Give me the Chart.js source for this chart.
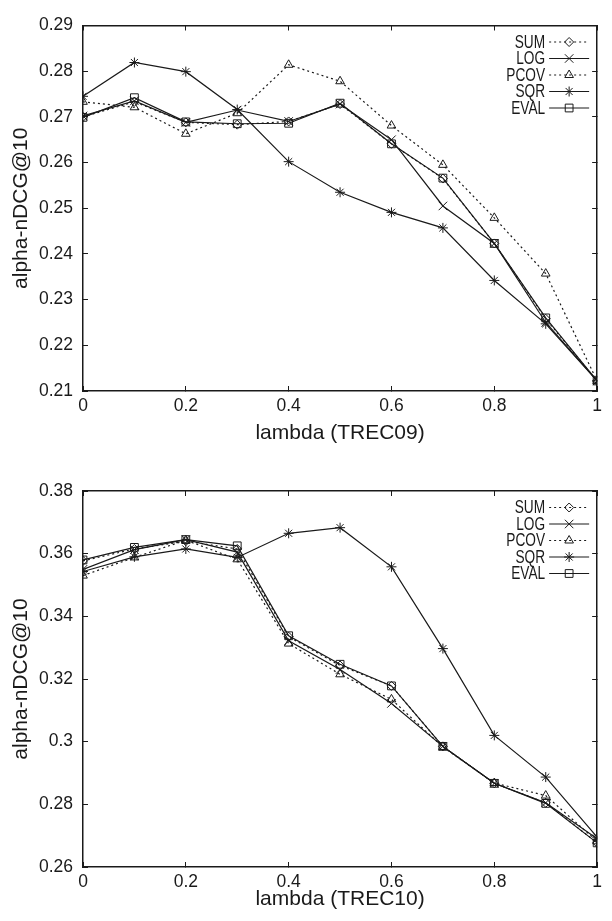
<!DOCTYPE html>
<html>
<head>
<meta charset="utf-8">
<script src="https://cdn.jsdelivr.net/npm/chart.js@4.4.1/dist/chart.umd.min.js"></script>
<style>
  html, body { margin: 0; padding: 0; background: #fff; }
  #wrap { position: relative; width: 612px; height: 921px; }
  canvas { position: absolute; left: 0; }
  #trec09 { top: 0; }
  #trec10 { top: 460px; }
</style>
</head>
<body>
<div id="wrap">
  <canvas id="trec09" width="612" height="460"></canvas>
  <canvas id="trec10" width="612" height="461"></canvas>
</div>
<script>
// lambda values on the x axis
const lambdas = [0, 0.1, 0.2, 0.3, 0.4, 0.5, 0.6, 0.7, 0.8, 0.9, 1];
const seriesNames = ["SUM", "LOG", "PCOV", "SQR", "EVAL"];

const xTicks = [0, 0.2, 0.4, 0.6, 0.8, 1];
const xTickLabels = ["0", "0.2", "0.4", "0.6", "0.8", "1"];
const yTicks09 = [0.21, 0.22, 0.23, 0.24, 0.25, 0.26, 0.27, 0.28, 0.29];
const yTickLabels09 = ["0.21", "0.22", "0.23", "0.24", "0.25", "0.26", "0.27", "0.28", "0.29"];
const yTicks10 = [0.26, 0.28, 0.30, 0.32, 0.34, 0.36, 0.38];
const yTickLabels10 = ["0.26", "0.28", "0.3", "0.32", "0.34", "0.36", "0.38"];

// TREC09 (alpha-nDCG@10)
const sum09  = [0.2700, 0.2733, 0.2688, 0.2683, 0.2690, 0.2728, 0.2641, 0.2565, 0.2423, 0.2258, 0.2122];
const log09  = [0.2702, 0.2735, 0.2688, 0.2715, 0.2690, 0.2728, 0.2650, 0.2505, 0.2423, 0.2250, 0.2122];
const pcov09 = [0.2733, 0.2721, 0.2663, 0.2708, 0.2814, 0.2778, 0.2681, 0.2595, 0.2479, 0.2357, 0.2122];
const sqr09  = [0.2745, 0.2819, 0.2799, 0.2716, 0.2602, 0.2535, 0.2491, 0.2457, 0.2342, 0.2247, 0.2122];
const eval09 = [0.2699, 0.2742, 0.2689, 0.2685, 0.2686, 0.2730, 0.2641, 0.2566, 0.2423, 0.2260, 0.2122];

// TREC10 (alpha-nDCG@10)
const sum10  = [0.3577, 0.3615, 0.3640, 0.3615, 0.3335, 0.3243, 0.3178, 0.2985, 0.2867, 0.2805, 0.2677];
const log10  = [0.3550, 0.3613, 0.3645, 0.3605, 0.3322, 0.3230, 0.3122, 0.2985, 0.2867, 0.2805, 0.2690];
const pcov10 = [0.3530, 0.3588, 0.3643, 0.3582, 0.3313, 0.3215, 0.3135, 0.2983, 0.2868, 0.2828, 0.2682];
const sqr10  = [0.3543, 0.3590, 0.3615, 0.3588, 0.3665, 0.3683, 0.3558, 0.3297, 0.3020, 0.2887, 0.2695];
const eval10 = [0.3580, 0.3620, 0.3645, 0.3625, 0.3338, 0.3247, 0.3178, 0.2985, 0.2867, 0.2803, 0.2677];

const FONT = "'Liberation Sans', Arial, Helvetica, sans-serif";
const INK = "#1a1a1a";

// gnuplot-like marker + line style per series
const styles = {
  SUM:  { pointStyle: "rectRot",  dash: [2, 3], radius: 4.5 },
  LOG:  { pointStyle: "crossRot", dash: [],     radius: 6 },
  PCOV: { pointStyle: "triangle", dash: [2, 3], radius: 5 },
  SQR:  { pointStyle: "star",     dash: [],     radius: 5 },
  EVAL: { pointStyle: "rect",     dash: [],     radius: 5.5 }
};

function makeDatasets(values) {
  return seriesNames.map((name, i) => ({
    label: name,
    data: lambdas.map((x, j) => ({ x: x, y: values[i][j] })),
    borderColor: INK,
    borderWidth: 1.2,
    borderDash: styles[name].dash,
    pointStyle: styles[name].pointStyle,
    pointRadius: styles[name].radius,
    pointBorderColor: INK,
    pointBorderWidth: 1,
    pointBackgroundColor: "rgba(0,0,0,0)",
    tension: 0,
    fill: false
  }));
}

// key drawn inside the plot, text on the left, sample on the right
const keyPlugin = {
  id: "gnuplotKey",
  afterDatasetsDraw(chart) {
    const { ctx, chartArea } = chart;
    chart.data.datasets.forEach((ds, i) => {
      const y = chartArea.top + 16.5 + i * 16.5;
      const right = chartArea.right;
      ctx.save();
      ctx.font = "18px " + FONT;
      ctx.fillStyle = INK;
      ctx.textAlign = "right";
      ctx.textBaseline = "middle";
      ctx.translate(right - 52, y);
      ctx.scale(0.76, 1);
      ctx.fillText(ds.label, 0, 1);
      ctx.restore();

      ctx.save();
      ctx.strokeStyle = INK;
      ctx.lineWidth = 1.2;
      ctx.setLineDash(ds.borderDash);
      ctx.beginPath();
      ctx.moveTo(right - 48, y);
      ctx.lineTo(right - 8, y);
      ctx.stroke();
      ctx.setLineDash([]);
      ctx.lineWidth = 1;
      ctx.fillStyle = "rgba(0,0,0,0)";
      Chart.helpers.drawPoint(ctx, {
        pointStyle: ds.pointStyle, radius: ds.pointRadius, rotation: 0, borderWidth: 1
      }, right - 28, y);
      ctx.restore();
    });
  }
};

function buildScales(yMin, yMax, yTicks, yTickLabels, xTitle, bottomGap, titlePad) {
  const tickFont = { family: FONT, size: 17.5 };
  const titleFont = { family: FONT, size: 21 };
  const grid = { display: true, drawOnChartArea: false, drawTicks: true, tickLength: -5, color: INK, lineWidth: 1 };
  const border = { display: true, color: INK, width: 1.5 };
  const setX = s => { s.ticks = xTicks.map(v => ({ value: v })); };
  const setY = s => { s.ticks = yTicks.map(v => ({ value: v })); };
  return {
    x: {
      type: "linear", position: "bottom", min: 0, max: 1,
      afterBuildTicks: setX,
      ticks: { font: tickFont, color: INK, padding: 10, maxRotation: 0, autoSkip: false,
               callback: (v, i) => xTickLabels[i] },
      grid: grid, border: border,
      title: { display: true, text: xTitle, font: titleFont, color: INK, padding: { top: 0, bottom: titlePad } },
      afterFit: s => { s.height = bottomGap; }
    },
    x2: {
      type: "linear", position: "top", min: 0, max: 1,
      afterBuildTicks: setX,
      ticks: { display: false },
      grid: grid, border: border,
      afterFit: s => { s.height = 0; }
    },
    y: {
      type: "linear", position: "left", min: yMin, max: yMax,
      afterBuildTicks: setY,
      ticks: { font: tickFont, color: INK, padding: 15, autoSkip: false,
               callback: (v, i) => yTickLabels[i] },
      grid: grid, border: border,
      title: { display: true, text: "alpha-nDCG@10", font: titleFont, color: INK, padding: { top: 9, bottom: 0 } },
      afterFit: s => { s.width = 83; }
    },
    y2: {
      type: "linear", position: "right", min: yMin, max: yMax,
      afterBuildTicks: setY,
      ticks: { display: false },
      grid: grid, border: border,
      afterFit: s => { s.width = 0; }
    }
  };
}

function drawChart(id, values, yMin, yMax, yTicks, yTickLabels, xTitle, topPad, bottomGap, titlePad) {
  new Chart(document.getElementById(id), {
    type: "line",
    data: { datasets: makeDatasets(values) },
    options: {
      responsive: false,
      animation: false,
      layout: { padding: { top: topPad, right: 7, left: 0, bottom: 0 } },
      plugins: { legend: { display: false }, tooltip: { enabled: false } },
      scales: buildScales(yMin, yMax, yTicks, yTickLabels, xTitle, bottomGap, titlePad)
    },
    plugins: [keyPlugin]
  });
}

drawChart("trec09", [sum09, log09, pcov09, sqr09, eval09], 0.21, 0.29,
  yTicks09, yTickLabels09, "lambda (TREC09)", 14, 69, 14);
drawChart("trec10", [sum10, log10, pcov10, sqr10, eval10], 0.26, 0.38,
  yTicks10, yTickLabels10, "lambda (TREC10)", 31, 54, 9);
</script>
</body>
</html>
